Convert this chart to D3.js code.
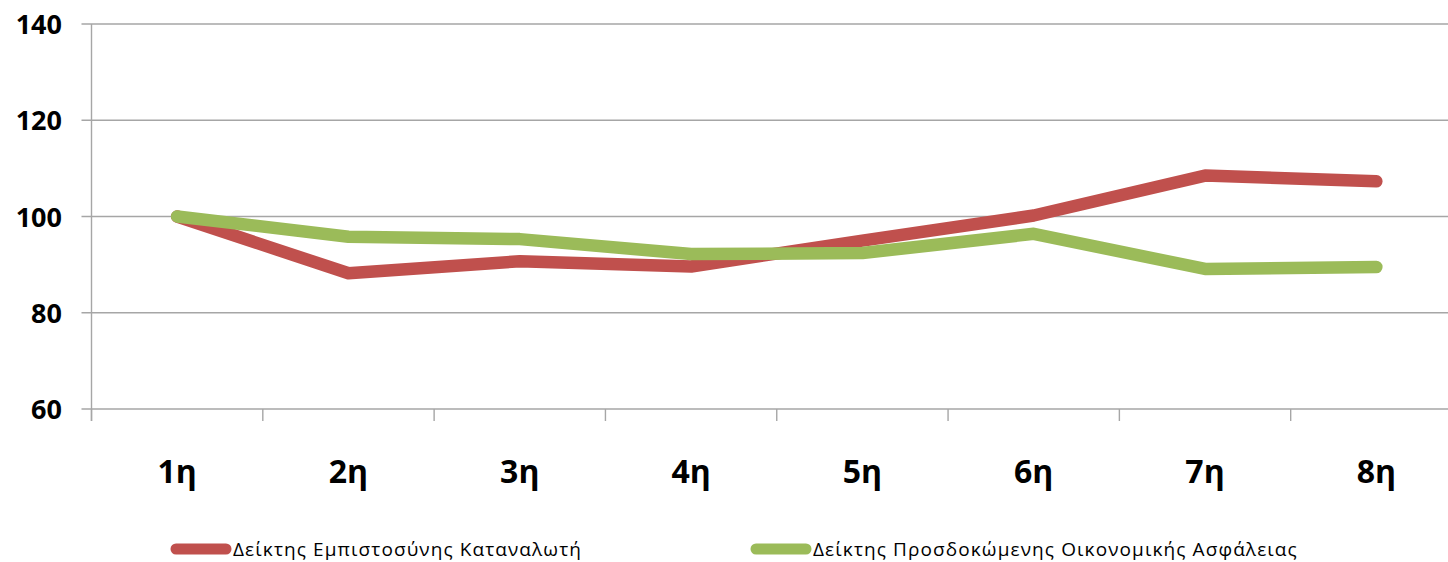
<!DOCTYPE html>
<html><head><meta charset="utf-8">
<script src="https://cdn.jsdelivr.net/npm/d3@7"></script>
<style>body{margin:0;background:#fff}svg{display:block}</style>
</head><body><svg id="c" width="1448" height="562"></svg>
<script>
const categories = ["1η","2η","3η","4η","5η","6η","7η","8η"];
const consumerConfidence = [100, 88.2, 90.7, 89.6, 95.0, 100.2, 108.5, 107.3];
const economicSecurity = [100, 95.8, 95.3, 92.2, 92.4, 96.4, 89.1, 89.5];
const seriesNames = ["Δείκτης Εμπιστοσύνης Καταναλωτή", "Δείκτης Προσδοκώμενης Οικονομικής Ασφάλειας"];
const yTicks = [60, 80, 100, 120, 140];

(function () {
const svg = d3.select("#c");
const mLeft = 91.5, mRight = 1462, mTop = 24, mBottom = 409;
const x = d3.scaleBand().domain(categories).range([mLeft, mRight]);
const y = d3.scaleLinear().domain([60, 140]).range([mBottom, mTop]);
const grid = "#a6a6a6";

svg.append("g").selectAll("line").data(yTicks).join("line")
  .attr("x1", mLeft - 10).attr("x2", 1448)
  .attr("y1", d => y(d)).attr("y2", d => y(d))
  .attr("stroke", grid).attr("stroke-width", 1.4);
svg.append("line").attr("x1", mLeft).attr("x2", mLeft)
  .attr("y1", mTop).attr("y2", mBottom + 12).attr("stroke", grid).attr("stroke-width", 1.4);
svg.append("g").selectAll("line").data(categories).join("line")
  .attr("x1", d => x(d)).attr("x2", d => x(d))
  .attr("y1", mBottom).attr("y2", mBottom + 12)
  .attr("stroke", grid).attr("stroke-width", 1.4);

svg.append("g").selectAll("text").data(yTicks).join("text")
  .attr("x", 62).attr("y", d => y(d) + 10)
  .attr("text-anchor", "end").attr("font-family", "Open Sans, sans-serif")
  .attr("font-weight", "bold").attr("font-size", 27).attr("fill", "#000")
  .text(d => d);
svg.append("g").selectAll("text").data(categories).join("text")
  .attr("x", d => x(d) + x.bandwidth() / 2).attr("y", 483)
  .attr("text-anchor", "middle").attr("font-family", "Open Sans, sans-serif")
  .attr("font-weight", "bold").attr("font-size", 32).attr("fill", "#000")
  .text(d => d);

const colors = ["#C0504D", "#9BBB59"];
const line = d3.line().x((d, i) => x(categories[i]) + x.bandwidth() / 2).y(d => y(d));
[consumerConfidence, economicSecurity].forEach((s, k) => {
  svg.append("path").attr("d", line(s)).attr("fill", "none")
    .attr("stroke", colors[k]).attr("stroke-width", 12.5)
    .attr("stroke-linecap", "round").attr("stroke-linejoin", "round");
});

const legendX = [176, 756];
seriesNames.forEach((n, k) => {
  svg.append("line").attr("x1", legendX[k]).attr("x2", legendX[k] + 50)
    .attr("y1", 549).attr("y2", 549).attr("stroke", colors[k])
    .attr("stroke-width", 11).attr("stroke-linecap", "round");
  svg.append("text").attr("x", legendX[k] + 57).attr("y", 556)
    .attr("font-family", "Open Sans, sans-serif").attr("font-size", 19)
    .attr("letter-spacing", "1.1px")
    .attr("fill", "#000").text(n);
});
})();
</script></body></html>
